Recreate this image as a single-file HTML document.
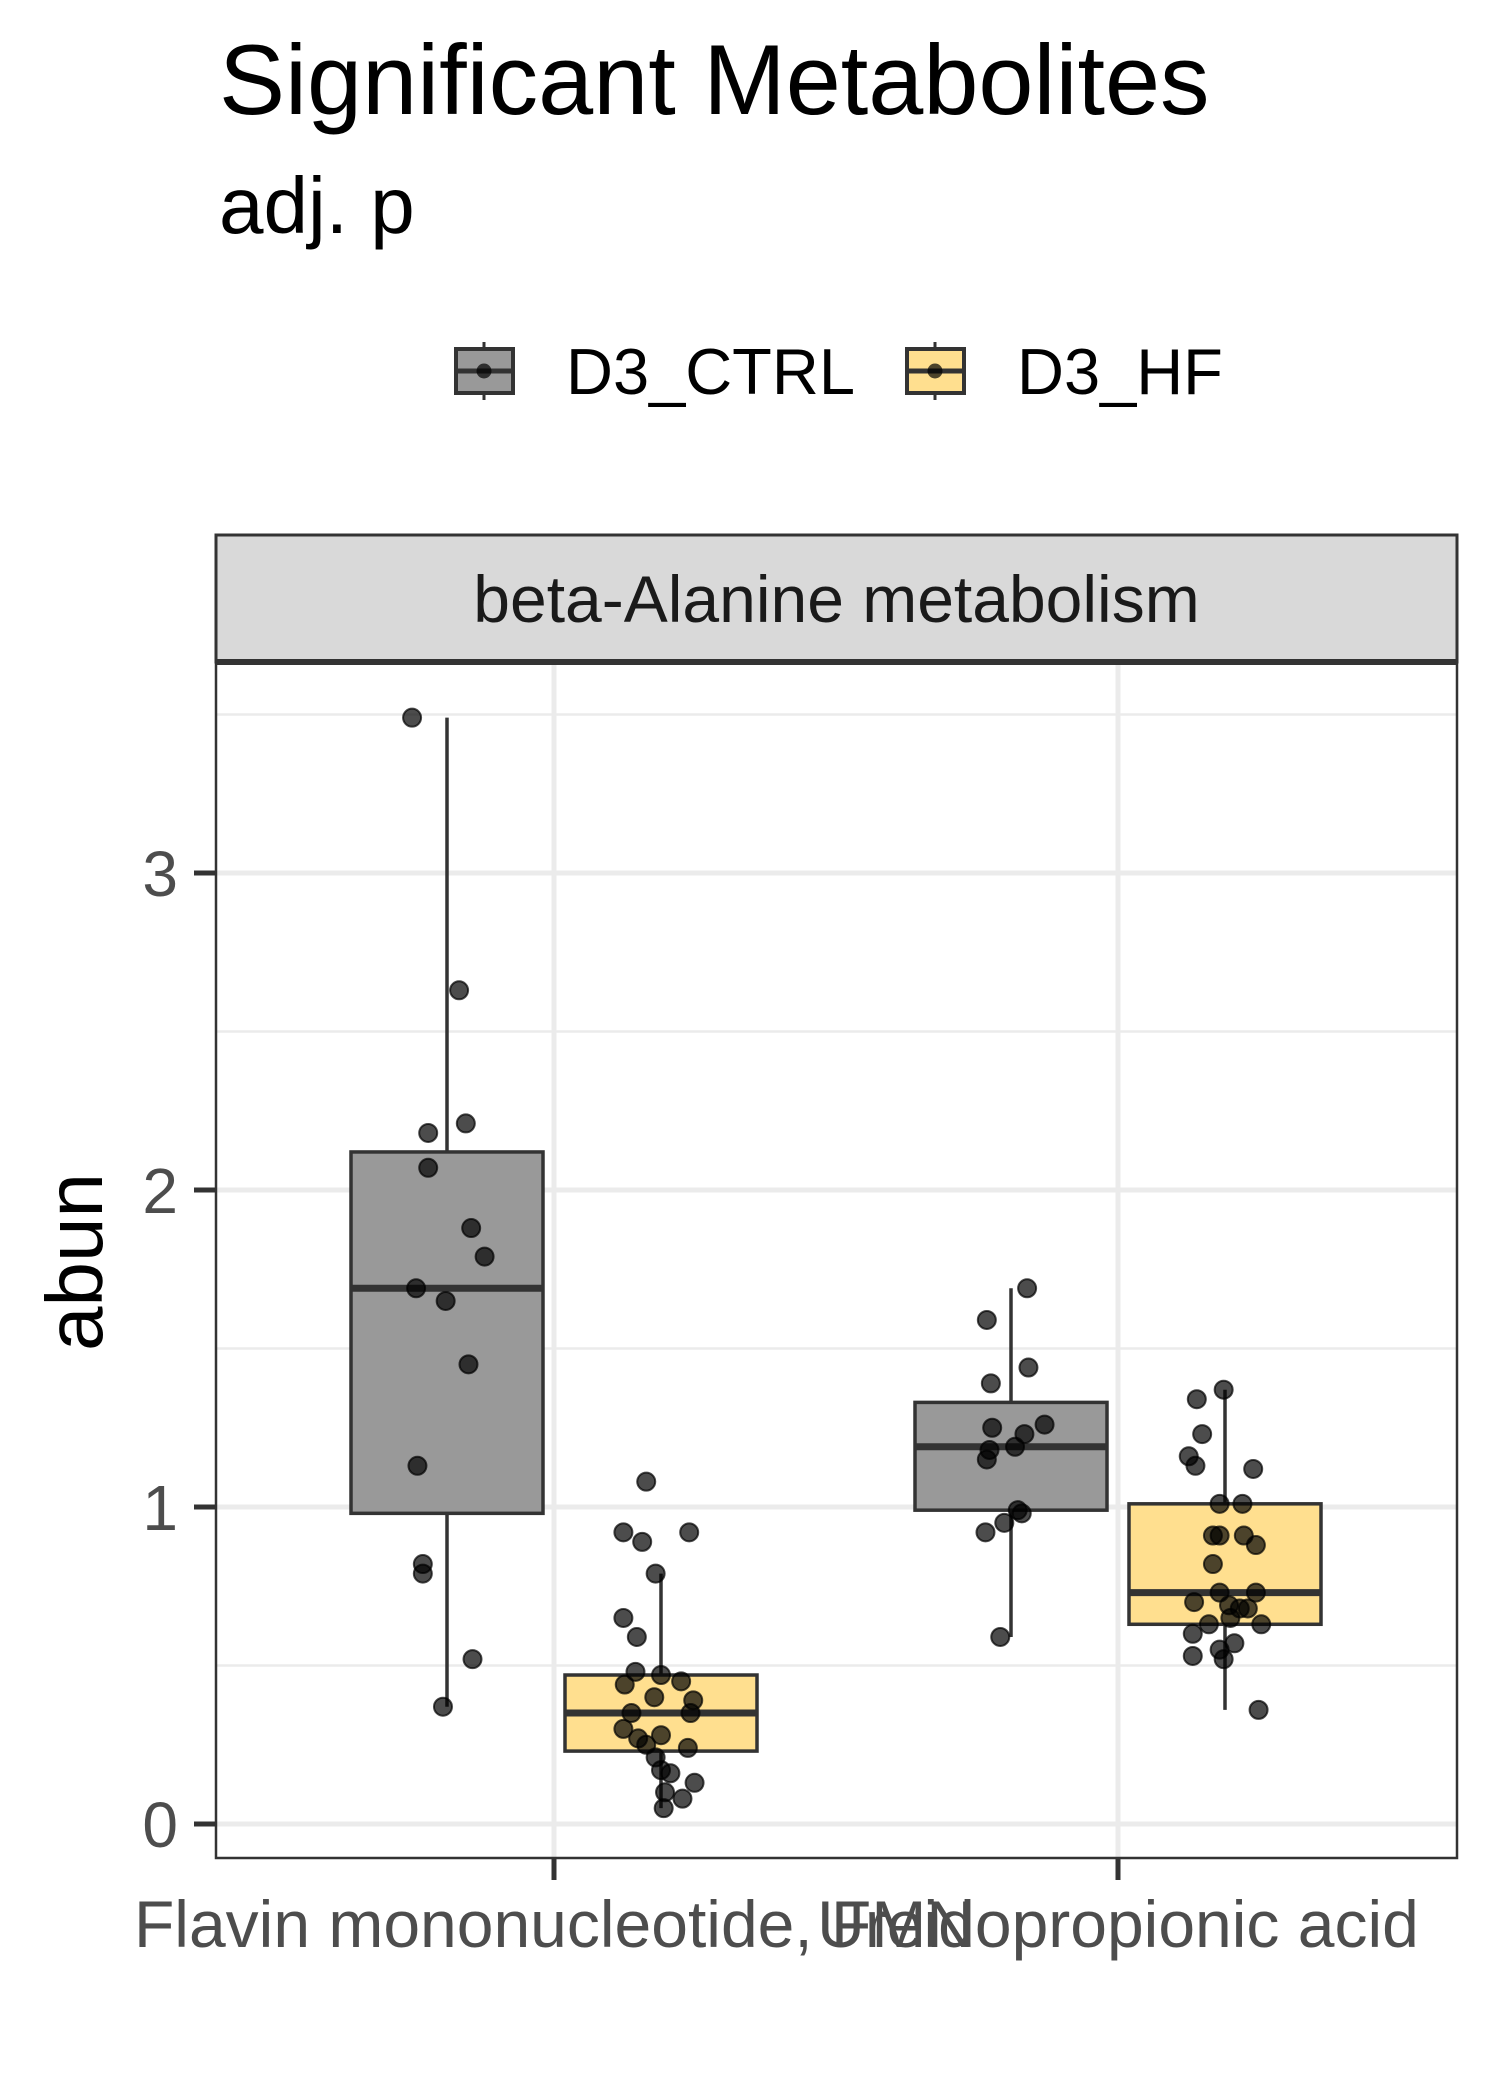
<!DOCTYPE html>
<html><head><meta charset="utf-8"><style>
html,body{margin:0;padding:0;background:#fff;}
svg{display:block;font-family:"Liberation Sans",Arial,sans-serif;}
</style></head><body>
<svg id="chart" width="1500" height="2100" viewBox="0 0 1500 2100" xmlns="http://www.w3.org/2000/svg">
<text x="219" y="114" font-size="99" fill="#000">Significant Metabolites</text>
<text x="219" y="233" font-size="80" fill="#000">adj. p</text>
<g id="legend"></g>
<g id="plot"></g>
</svg>
<script>
const categories = ["Flavin mononucleotide, FMN", "Ureidopropionic acid"];
const groups = ["D3_CTRL", "D3_HF"];
const groupColors = ["#999999", "#FFDF8F"];
const yTicks = [0, 1, 2, 3];
const yTickLabels = ["0", "1", "2", "3"];
// box stats: [whiskerLow, q1, median, q3, whiskerHigh] per category per group
const ctrlBoxes = [[0.37, 0.98, 1.69, 2.12, 3.49], [0.59, 0.99, 1.19, 1.33, 1.69]];
const hfBoxes = [[0.05, 0.23, 0.35, 0.47, 0.79], [0.36, 0.63, 0.73, 1.01, 1.37]];
// points: values and jitter
const ctrlFmnVals = [3.49,2.63,2.18,2.21,2.07,1.88,1.79,1.69,1.65,1.45,1.13,0.82,0.79,0.52,0.37];
const ctrlFmnJit = [-26,9,-14,14,-14,18,28,-23,-1,16,-22,-18,-18,19,-3];
const hfFmnVals = [1.08,0.92,0.89,0.92,0.79,0.65,0.59,0.48,0.44,0.47,0.45,0.40,0.39,0.35,0.35,0.30,0.28,0.27,0.25,0.24,0.21,0.17,0.16,0.13,0.10,0.08,0.05];
const hfFmnJit = [-11,-28,-14,21,-4,-28,-18,-19,-27,0,15,-5,24,-22,22,-28,0,-17,-11,20,-4,0,7,25,3,16,2];
const ctrlUreVals = [1.59,1.69,1.39,1.44,1.25,1.26,1.23,1.18,1.19,1.15,0.99,0.98,0.95,0.92,0.59];
const ctrlUreJit = [-18,12,-15,13,-14,25,10,-16,3,-18,5,8,-5,-19,-8];
const hfUreVals = [1.34,1.37,1.23,1.16,1.13,1.12,1.01,1.01,0.91,0.91,0.91,0.88,0.82,0.73,0.73,0.70,0.69,0.68,0.68,0.65,0.63,0.63,0.60,0.57,0.53,0.55,0.52,0.36];
const hfUreJit = [-21,-1,-17,-27,-22,21,-4,13,-9,-4,14,23,-9,-4,23,-23,3,17,11,4,-12,27,-24,7,-24,-4,-1,25];

const NS = "http://www.w3.org/2000/svg";
const X0 = 216, X1 = 1457, YTOP = 662, YBOT = 1858;
const yScale = v => 1824 - v * 317;
const xScale = i => 554 + i * 564;
const DODGE = 107, BOXW = 192, JIT = 1.343;
function mk(tag, attrs, parent){ const e=document.createElementNS(NS,tag); for(const k in attrs) e.setAttribute(k,attrs[k]); parent.appendChild(e); return e; }
const plot = document.getElementById('plot');
const legend = document.getElementById('legend');

const strip = mk('rect',{x:X0,y:535,width:X1-X0,height:YTOP-535,fill:'#d9d9d9',stroke:'#333','stroke-width':3},plot);


const st = mk('text',{x:(X0+X1)/2,y:622,'font-size':66,'text-anchor':'middle',fill:'#1a1a1a'},plot);
st.textContent='beta-Alanine metabolism';


mk('rect',{x:X0,y:YTOP,width:X1-X0,height:YBOT-YTOP,fill:'#fff'},plot);
[0.5,1.5,2.5,3.5].forEach(v=>{
  const l=mk('line',{x1:X0,x2:X1,y1:yScale(v),y2:yScale(v),stroke:'#ebebeb','stroke-width':2.5},plot);
  
  
});
yTicks.forEach((v,i)=>{
  const l=mk('line',{x1:X0,x2:X1,y1:yScale(v),y2:yScale(v),stroke:'#ebebeb','stroke-width':5},plot);
  
  
  const t=mk('line',{x1:194,x2:X0,y1:yScale(v),y2:yScale(v),stroke:'#333','stroke-width':5},plot);
  
  
  const tx=mk('text',{x:178,y:yScale(v)+23,'font-size':64,'text-anchor':'end',fill:'#4d4d4d'},plot);
  tx.textContent=yTickLabels[i];
  
  
});
categories.forEach((c,i)=>{
  const l=mk('line',{x1:xScale(i),x2:xScale(i),y1:YTOP,y2:YBOT,stroke:'#ebebeb','stroke-width':5},plot);
  
  
  const t=mk('line',{x1:xScale(i),x2:xScale(i),y1:YBOT,y2:1880,stroke:'#333','stroke-width':5},plot);
  
  
  const tx=mk('text',{x:xScale(i),y:1947,'font-size':66,'text-anchor':'middle',fill:'#4d4d4d'},plot);
  tx.textContent=c;
  
  
});

function drawBox(stats, cx, color){
  const g=mk('g',{},plot);
  
  
  mk('line',{x1:cx,x2:cx,y1:yScale(stats[0]),y2:yScale(stats[4]),stroke:'#333','stroke-width':3.5},g);
  mk('rect',{x:cx-BOXW/2,y:yScale(stats[3]),width:BOXW,height:yScale(stats[1])-yScale(stats[3]),fill:color,stroke:'#333','stroke-width':3.5},g);
  mk('line',{x1:cx-BOXW/2,x2:cx+BOXW/2,y1:yScale(stats[2]),y2:yScale(stats[2]),stroke:'#333','stroke-width':7},g);
}
function drawPts(vals, jit, cx){
  vals.forEach((v,k)=>{
    const p=mk('circle',{cx:cx+jit[k]*JIT,cy:yScale(v),r:9,fill:'rgba(0,0,0,0.7)',stroke:'rgba(0,0,0,0.7)','stroke-width':2},plot);
    
    
  });
}
ctrlBoxes.forEach((s,i)=>drawBox(s,xScale(i)-DODGE,groupColors[0]));
hfBoxes.forEach((s,i)=>drawBox(s,xScale(i)+DODGE,groupColors[1]));
drawPts(ctrlFmnVals,ctrlFmnJit,xScale(0)-DODGE);
drawPts(hfFmnVals,hfFmnJit,xScale(0)+DODGE);
drawPts(ctrlUreVals,ctrlUreJit,xScale(1)-DODGE);
drawPts(hfUreVals,hfUreJit,xScale(1)+DODGE);

const border=mk('rect',{x:X0,y:YTOP,width:X1-X0,height:YBOT-YTOP,fill:'none',stroke:'#333','stroke-width':2.5},plot);


const sb=mk('line',{x1:X0,x2:X1,y1:YTOP,y2:YTOP,stroke:'#333','stroke-width':6},plot);



const yt=mk('text',{x:102,y:1262,'font-size':80,'text-anchor':'middle',fill:'#000',transform:'rotate(-90 102 1262)'},plot);
yt.textContent='abun';



const legX=[456,907], labX=[566,1017];
groups.forEach((g,i)=>{
  const e=mk('g',{},legend);
  
  
  const cx=legX[i]+28;
  mk('line',{x1:cx,x2:cx,y1:342,y2:400,stroke:'#333','stroke-width':3},e);
  mk('rect',{x:legX[i],y:349,width:57,height:44,fill:groupColors[i],stroke:'#333','stroke-width':4},e);
  mk('line',{x1:legX[i],x2:legX[i]+57,y1:371,y2:371,stroke:'#333','stroke-width':5},e);
  mk('circle',{cx:cx,cy:371,r:7.5,fill:'rgba(0,0,0,0.7)'},e);
  const t=mk('text',{x:labX[i],y:394,'font-size':65,fill:'#000'},e);
  t.textContent=g;
});
</script>
</body></html>
